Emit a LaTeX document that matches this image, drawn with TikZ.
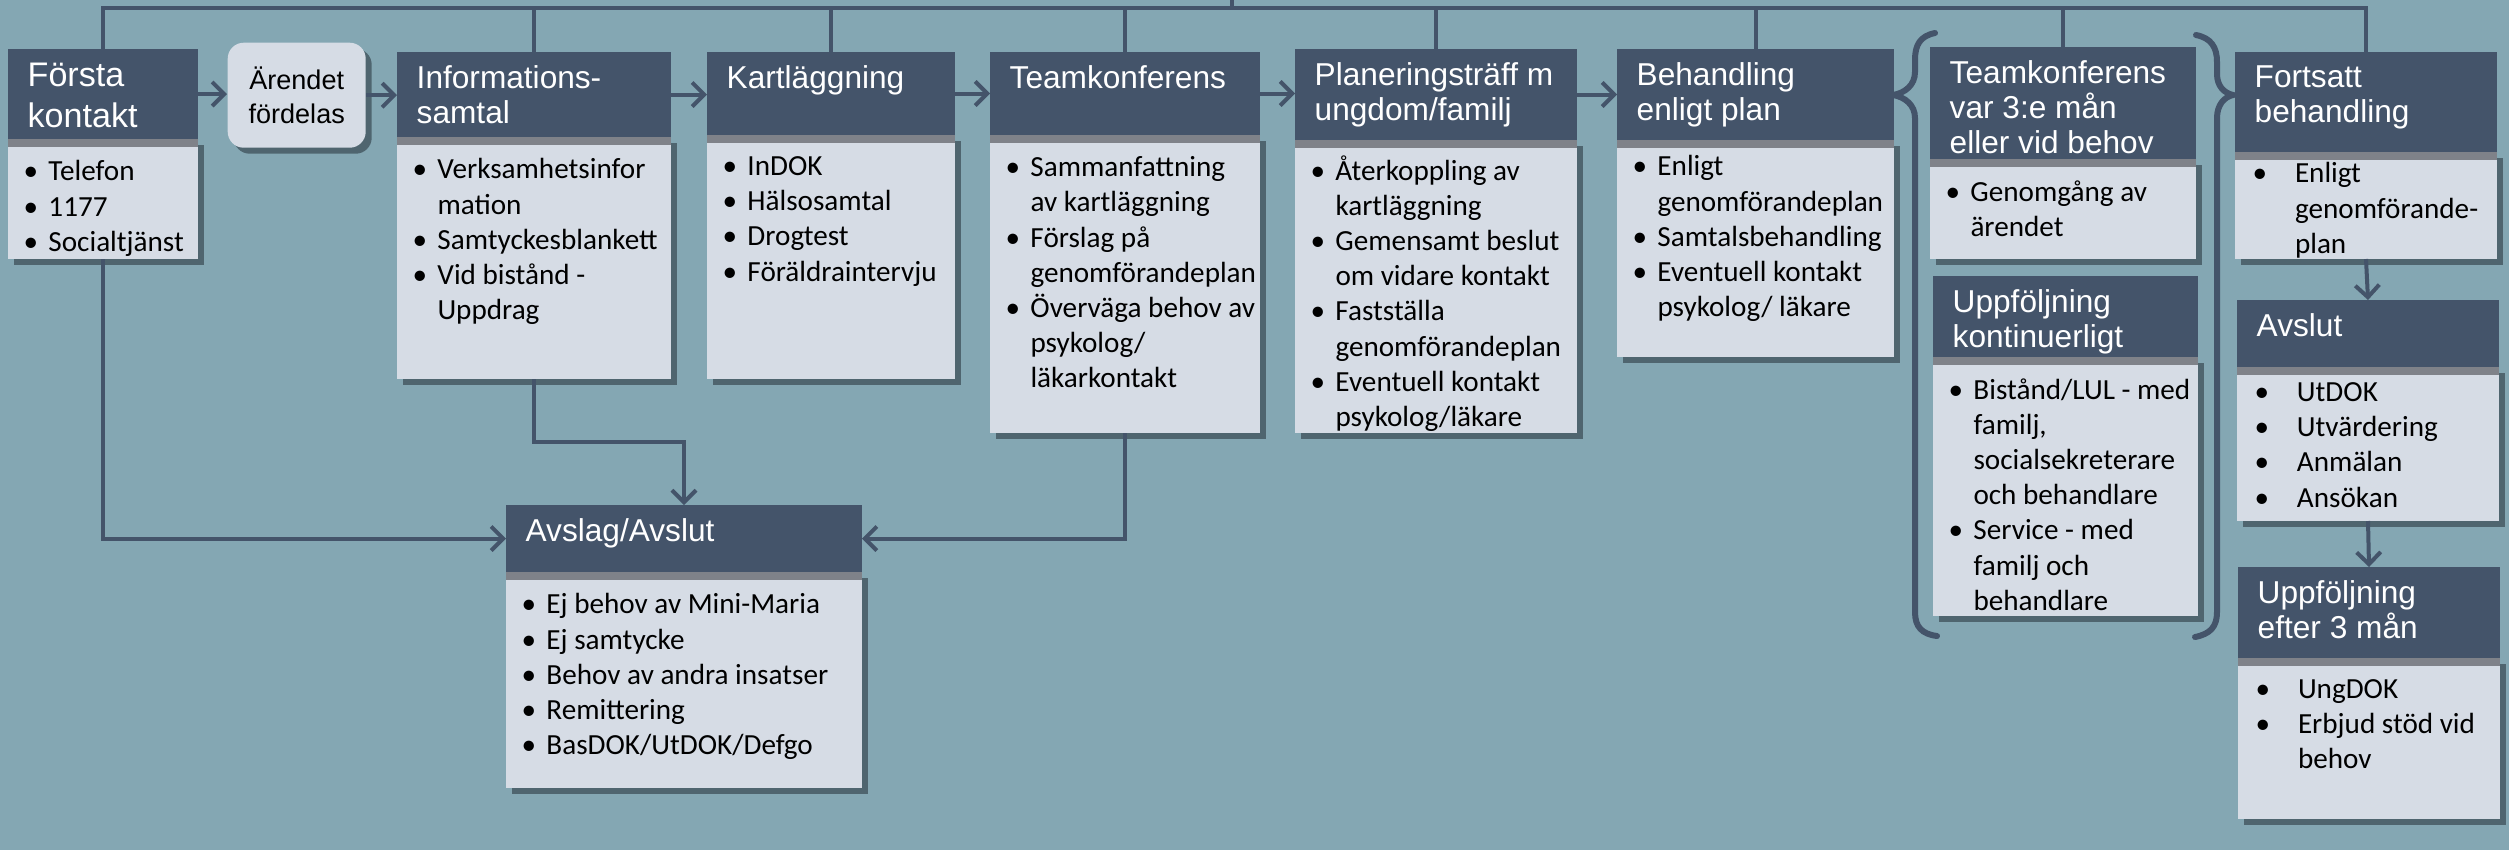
\documentclass[tikz,border=0pt]{standalone}
\usepackage{fontspec}
\setmainfont{Carlito}
\newfontfamily\arialfont{Liberation Sans}
\usetikzlibrary{arrows.meta, positioning, shadows}
\definecolor{bgblue}{RGB}{132,167,179}
\definecolor{slate}{RGB}{68,84,106}
\definecolor{paleblue}{RGB}{214,220,229}
\definecolor{stripgray}{RGB}{127,130,137}
\definecolor{shadowgray}{RGB}{79,101,111}
\newcommand{\bi}[1]{\hangindent=0.85em\hangafter=1\noindent\makebox[0.85em][l]{\textbullet}#1\par}
\newcommand{\bw}[1]{\hangindent=1.45em\hangafter=1\noindent\makebox[1.45em][l]{\textbullet}#1\par}

\begin{document}
\begin{tikzpicture}[
  x=0.1mm, y=-0.1mm,
  hd/.style={fill=slate, anchor=north west, inner sep=0pt, outer sep=0pt},
  htxt/.style={anchor=north west, xshift=1.9mm, yshift=-1.3mm, inner sep=0pt,
               text=white, align=left, font=\arialfont\fontsize{9}{10}\selectfont},
  bd/.style={fill=paleblue, inner sep=0pt, outer sep=0pt,
             drop shadow={shadow xshift=0.6mm, shadow yshift=-0.6mm, fill=shadowgray, opacity=1},
             path picture={\fill[stripgray] (path picture bounding box.north west)
                           rectangle ([yshift=-0.8mm]path picture bounding box.north east);}},
  btxt/.style={anchor=north west, xshift=1.5mm, yshift=-2.1mm, inner sep=0pt,
               text width=#1, align=flush left, font=\fontsize{8.3}{10}\selectfont},
  arend/.style={anchor=north west, fill=paleblue, rounded corners=1.6mm,
                minimum width=13.8mm, minimum height=10.5mm, inner sep=0pt, align=center,
                font=\arialfont\fontsize{7.7}{9.8}\selectfont,
                drop shadow={shadow xshift=0.6mm, shadow yshift=-0.6mm, fill=shadowgray, opacity=1}},
  ln/.style={draw=slate, line width=0.4mm},
  arr/.style={ln, -{Straight Barb[length=1.2mm, width=2.4mm]}},
  brace/.style={draw=slate, line width=0.6mm, line cap=round}
]
  \path[fill=bgblue, use as bounding box] (0,0) rectangle (2509,850);

  % first row
  \node[hd, minimum width=19mm, minimum height=9mm,
        label={[htxt, font=\arialfont\fontsize{9.7}{11.7}\selectfont]north west:{Första\\kontakt}}] (forsta) at (8,49) {};
  \node[bd, minimum width=19mm, minimum height=12mm, below=0pt of forsta,
        label={[btxt=19mm]north west:{\bi{Telefon}\bi{1177}\bi{Socialtjänst}}}] (forstab) {};

  \node[arend] (arende) at (227,42) {Ärendet\\fördelas};

  \node[hd, minimum width=27.4mm, minimum height=8.5mm,
        label={[htxt]north west:{Informations-\\samtal}}] (info) at (397,52) {};
  \node[bd, minimum width=27.4mm, minimum height=24.2mm, below=0pt of info,
        label={[btxt=27.4mm]north west:{\bi{Verksamhetsinfor\newline mation}\bi{Samtyckesblankett}%
          \bi{Vid bistånd -\newline Uppdrag}}}] (infob) {};

  \node[hd, minimum width=24.8mm, minimum height=8.3mm,
        label={[htxt]north west:{Kartläggning}}] (kart) at (707,52) {};
  \node[bd, minimum width=24.8mm, minimum height=24.4mm, below=0pt of kart,
        label={[btxt=24.8mm]north west:{\bi{InDOK}\bi{Hälsosamtal}\bi{Drogtest}\bi{Föräldraintervju}}}] (kartb) {};

  \node[hd, minimum width=27mm, minimum height=8.3mm,
        label={[htxt]north west:{Teamkonferens}}] (team) at (990,52) {};
  \node[bd, minimum width=27mm, minimum height=29.8mm, below=0pt of team,
        label={[btxt=27mm]north west:{\bi{Sammanfattning\newline av kartläggning}\bi{Förslag på\newline genomförandeplan}%
          \bi{Överväga behov av\newline psykolog/\newline läkarkontakt}}}] (teamb) {};

  \node[hd, minimum width=28.2mm, minimum height=9.1mm,
        label={[htxt]north west:{Planeringsträff m\\ungdom/familj}}] (plan) at (1295,49) {};
  \node[bd, minimum width=28.2mm, minimum height=29.3mm, below=0pt of plan,
        label={[btxt=28.2mm, yshift=0.6mm]north west:{\bi{Återkoppling av\newline kartläggning}\bi{Gemensamt beslut\newline om vidare kontakt}%
          \bi{Fastställa\newline genomförandeplan}\bi{Eventuell kontakt\newline psykolog/läkare}}}] (planb) {};

  \node[hd, minimum width=27.7mm, minimum height=9.1mm,
        label={[htxt]north west:{Behandling\\enligt plan}}] (beh) at (1617,49) {};
  \node[bd, minimum width=27.7mm, minimum height=21.7mm, below=0pt of beh,
        label={[btxt=27.7mm, yshift=0.6mm]north west:{\bi{Enligt\newline genomförandeplan}\bi{Samtalsbehandling}%
          \bi{Eventuell kontakt\newline psykolog/ läkare}}}] (behb) {};

  % inside the braces
  \node[hd, minimum width=26.6mm, minimum height=11.2mm,
        label={[htxt]north west:{Teamkonferens\\var 3:e mån\\eller vid behov}}] (team3) at (1930,47) {};
  \node[bd, minimum width=26.6mm, minimum height=10mm, below=0pt of team3,
        label={[btxt=26.6mm]north west:{\bi{Genomgång av\newline ärendet}}}] (team3b) {};

  \node[hd, minimum width=26.5mm, minimum height=8.1mm,
        label={[htxt]north west:{Uppföljning\\kontinuerligt}}] (upk) at (1933,276) {};
  \node[bd, minimum width=26.5mm, minimum height=25.9mm, below=0pt of upk,
        label={[btxt=26.5mm]north west:{\bi{Bistånd/LUL - med\newline familj,\newline socialsekreterare\newline och behandlare}%
          \bi{Service - med\newline familj och\newline behandlare}}}] (upkb) {};

  % right column
  \node[hd, minimum width=26.2mm, minimum height=10mm,
        label={[htxt]north west:{Fortsatt\\behandling}}] (fort) at (2235,52) {};
  \node[bd, minimum width=26.2mm, minimum height=10.7mm, below=0pt of fort,
        label={[btxt=26.2mm, xshift=0.2mm, yshift=1.1mm]north west:{\bw{Enligt\newline genomförande-\newline plan}}}] (fortb) {};

  \node[hd, minimum width=26.2mm, minimum height=6.7mm,
        label={[htxt]north west:{Avslut}}] (avslut) at (2237,300) {};
  \node[bd, minimum width=26.2mm, minimum height=15.4mm, below=0pt of avslut,
        label={[btxt=26.2mm, xshift=0.2mm, yshift=0.6mm]north west:{\bw{UtDOK}\bw{Utvärdering}\bw{Anmälan}\bw{Ansökan}}}] (avslutb) {};

  \node[hd, minimum width=26.2mm, minimum height=9.1mm,
        label={[htxt]north west:{Uppföljning\\efter 3 mån}}] (uppf3) at (2238,567) {};
  \node[bd, minimum width=26.2mm, minimum height=16.1mm, below=0pt of uppf3,
        label={[btxt=26.2mm, xshift=0.2mm]north west:{\bw{UngDOK}\bw{Erbjud stöd vid\newline behov}}}] (uppf3b) {};

  % rejection box
  \node[hd, minimum width=35.6mm, minimum height=6.7mm,
        label={[htxt]north west:{Avslag/Avslut}}] (avslag) at (506,505) {};
  \node[bd, minimum width=35.6mm, minimum height=21.6mm, below=0pt of avslag,
        label={[btxt=35.6mm]north west:{\bi{Ej behov av Mini-Maria}\bi{Ej samtycke}\bi{Behov av andra insatser}%
          \bi{Remittering}\bi{BasDOK/UtDOK/Defgo}}}] (avslagb) {};

  % top line
  \coordinate (topline) at (0,8);
  \coordinate (feed) at (1232,0);
  \draw[ln] (forsta.north) -- (forsta.north |- topline) -- (fort.north |- topline) -- (fort.north);
  \foreach \n in {info,kart,team,plan,beh,team3}
    \draw[ln] (\n.north) -- (\n.north |- topline);
  \draw[ln] (feed) -- (feed |- topline);

  % flow
  \draw[arr] (forsta.east) -- (forsta.east -| arende.west);
  \draw[arr] (arende.east) -- (arende.east -| info.west);
  \draw[arr] (info.east) -- (info.east -| kart.west);
  \draw[arr] (kart.east) -- (kart.east -| team.west);
  \draw[arr] (team.east) -- (team.east -| plan.west);
  \draw[arr] (plan.east) -- (plan.east -| beh.west);
  \draw[arr] (forstab.south) |- (avslag.west);
  \draw[arr] (infob.south) -- ++(0,63) -| (avslag.north);
  \draw[arr] (teamb.south) |- (avslag.east);
  \draw[arr] (fortb.south) -- (avslut.north);
  \draw[arr] (avslutb.south) -- (uppf3.north);

  % braces
  \draw[brace] (1935,33) .. controls (1920,36) and (1915,45) .. (1915,60) -- (1915,72)
    .. controls (1915,85) and (1905,93) .. (1893,95) .. controls (1905,97) and (1915,105) .. (1915,118)
    -- (1915,612) .. controls (1915,627) and (1922,634) .. (1937,636);
  \draw[brace] (2196,35) .. controls (2211,38) and (2217,47) .. (2217,62) -- (2217,74)
    .. controls (2217,86) and (2224,93) .. (2233,95) .. controls (2224,97) and (2217,105) .. (2217,118)
    -- (2217,612) .. controls (2217,627) and (2210,634) .. (2195,637);
\end{tikzpicture}
\end{document}
